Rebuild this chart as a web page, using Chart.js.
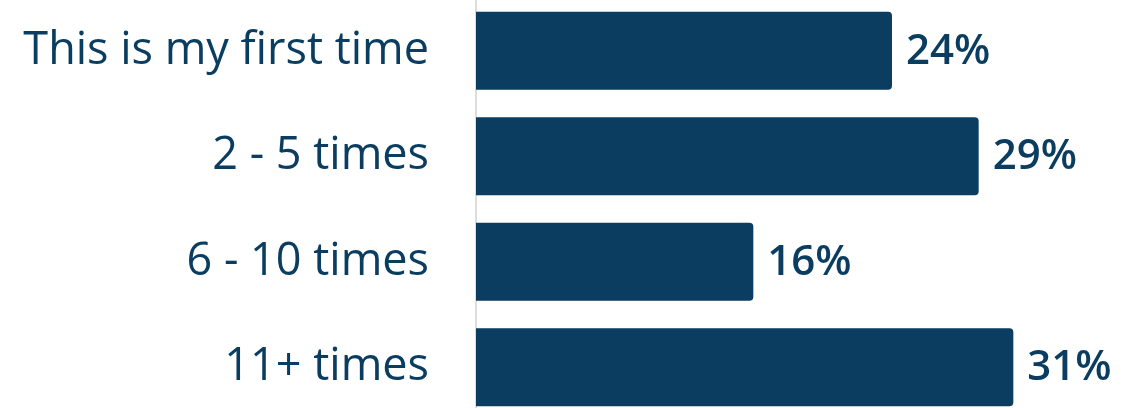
<!DOCTYPE html>
<html>
<head>
<meta charset="utf-8">
<script src="https://cdn.jsdelivr.net/npm/chart.js@4"></script>
<style>
  html, body { margin: 0; padding: 0; background: #fff; overflow: hidden; }
  #wrap { position: absolute; left: 0; top: -2px; width: 1133px; height: 422px; }
</style>
</head>
<body>
<div id="wrap"><canvas id="visits"></canvas></div>
<script>
const categories = ["This is my first time", "2 - 5 times", "6 - 10 times", "11+ times"];
const shares = [24, 29, 16, 31];

const navy = "#0b3d61";

// draws the "24%" style labels next to each bar
const valueLabels = {
  id: "valueLabels",
  afterDatasetsDraw(chart) {
    const ctx = chart.ctx;
    const meta = chart.getDatasetMeta(0);
    ctx.save();
    ctx.fillStyle = navy;
    ctx.font = "600 42px 'Open Sans'";
    ctx.textAlign = "left";
    ctx.textBaseline = "middle";
    meta.data.forEach((bar, i) => {
      ctx.fillText(shares[i] + "%", bar.x + 14, bar.y + 1);
    });
    ctx.restore();
  }
};

new Chart(document.getElementById("visits"), {
  type: "bar",
  data: {
    labels: categories,
    datasets: [
      {
        data: shares,
        backgroundColor: navy,
        borderRadius: 4,
        barPercentage: 0.74,
        categoryPercentage: 1,
      },
    ],
  },
  options: {
    indexAxis: "y",
    responsive: true,
    maintainAspectRatio: false,
    animation: false,
    layout: { padding: { top: 0, bottom: 0, left: 0, right: 33 } },
    plugins: {
      legend: { display: false },
      tooltip: { enabled: false },
    },
    scales: {
      x: {
        display: false,
        min: 0,
        max: 36,
      },
      y: {
        grid: { display: false },
        border: { display: true, color: "#dddddd", width: 2 },
        afterFit(scale) {
          scale.width = 476;
          scale.paddingTop = 0;
          scale.paddingBottom = 0;
        },
        ticks: {
          color: navy,
          padding: 39,
          font: { family: "'Open Sans'", size: 45 },
        },
      },
    },
  },
  plugins: [valueLabels],
});
</script>
</body>
</html>
